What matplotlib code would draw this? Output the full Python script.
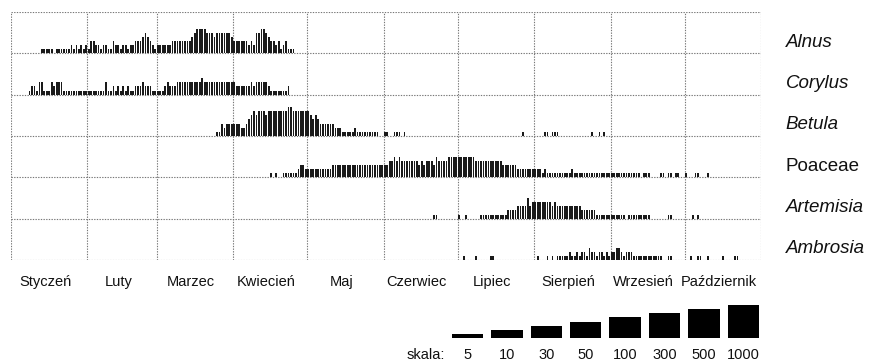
import numpy as np
import matplotlib
matplotlib.use("Agg")
import matplotlib.pyplot as plt
from matplotlib.transforms import blended_transform_factory

plt.rcParams['font.family'] = ['Liberation Sans', 'DejaVu Sans']

# Miesiące sezonu pylenia (styczeń - październik)
month_names = ["Styczeń", "Luty", "Marzec", "Kwiecień", "Maj", "Czerwiec",
               "Lipiec", "Sierpień", "Wrzesień", "Październik"]
month_days = [31, 28, 31, 30, 31, 30, 31, 31, 30, 31]

taxa = ["Alnus", "Corylus", "Betula", "Poaceae", "Artemisia", "Ambrosia"]
taxa_italic = [True, True, True, False, True, True]

# Klasy stężenia dzień po dniu: (dzień roku od 0, ciąg klas 0-8)
alnus = [
    (12, "11111"),
    (18, "111111" "2121212" "1332212211" "3221221223" "33454321"
         "222222" "3333333" "34" "56666" "5554" "555555" "4"
         "3333332325566543323123111"),
]
corylus = [
    (7, "122133111323331" "1111111111111111"
        "311212121211222322211111232223" "333333333" "4"
        "33333333333" "33" "222222" "3" "2" "33333" "2" "1111111" "2"),
]
betula = [
    (83, "1132333333223" "45656665" "66666666" "77" "6666666" "54543"
         "33333" "222" "11111" "2" "111111111"),
    (151, "11"), (155, "111"), (159, "1"), (207, "1"), (216, "11"),
    (219, "111"), (235, "1"), (238, "1"), (240, "1"),
]
poaceae = [
    (105, "101"),
    (110, "111111" "23322" "222222222" "33333333333333333333333" "44545"
          "4444444" "3434443" "54444" "55555555555" "44444444444" "333333"
          "2222222222" "12" "1111111111" "2" "111111111111111111111111111"),
    (256, "111"), (263, "11"), (266, "11"), (269, "11"), (273, "1"),
    (277, "11"), (282, "1"),
]
artemisia = [
    (171, "11"), (181, "1"), (184, "1"),
    (190, "11111111111" "2222" "3333" "5" "3" "44444444" "3" "4"
          "3333333333" "222222" "111111111111"),
    (250, "111111111"), (266, "11"), (276, "101"),
]
ambrosia = [
    (183, "1"), (188, "1"), (194, "11"), (213, "1"), (217, "101"),
    (221, "11111" "2112122132" "2122121223" "32122211" "1111111111"),
    (266, "11"), (275, "1"), (278, "11"), (282, "1"), (288, "1"), (293, "11"),
]
series = [alnus, corylus, betula, poaceae, artemisia, ambrosia]

# Skala klas stężenia
scale_classes = [1, 2, 3, 4, 5, 6, 7, 8]
scale_labels = ["5", "10", "30", "50", "100", "300", "500", "1000"]


def unpack(runs):
    days, levels = [], []
    for start, codes in runs:
        for k, c in enumerate(codes):
            if c != "0":
                days.append(start + k)
                levels.append(int(c))
    return np.array(days), np.array(levels)


W, H = 872, 364
fig = plt.figure(figsize=(W / 100, H / 100), dpi=100)
ax = fig.add_axes([11 / W, 1 - 260 / H, 750 / W, 248 / H])

edges = np.concatenate([[0], np.cumsum(month_days)])
mids = (edges[:-1] + edges[1:]) / 2
row_h = 10
n = len(series)

grid_kw = dict(color="#777777", linestyle=(0, (1.2, 1.2)), linewidth=0.8, zorder=1)
for x in edges:
    ax.axvline(x, **grid_kw)
for r in range(n + 1):
    ax.axhline(r * row_h, **grid_kw)

lab_tr = blended_transform_factory(ax.transAxes, ax.transData)
for i, runs in enumerate(series):
    base = (n - 1 - i) * row_h
    d, lv = unpack(runs)
    ax.bar(d + 0.5, lv, width=0.7, bottom=base, color="#1a1a1a",
           linewidth=0, zorder=3)
    ax.text(1.033, base + 1.6, taxa[i], transform=lab_tr, fontsize=13.5,
            style="italic" if taxa_italic[i] else "normal",
            ha="left", va="baseline", color="#111111", clip_on=False)

ax.set_xlim(0, edges[-1])
ax.set_ylim(0, n * row_h)
for s in ax.spines.values():
    s.set_visible(False)
ax.set_yticks([])
ax.set_xticks(mids - 1.5)
ax.set_xticklabels(month_names, fontsize=10.5, color="#111111")
ax.tick_params(axis="x", length=0, pad=11)

# Legenda skali
lax = fig.add_axes([447.8 / W, 26 / H, 315.2 / W, 33 / H])
lax.bar(np.arange(len(scale_classes)), scale_classes, width=0.8, color="black",
        linewidth=0)
lax.set_xlim(-0.5, len(scale_classes) - 0.5)
lax.set_ylim(0, 8)
lax.set_xticks(np.arange(len(scale_classes)))
lax.set_xticklabels(scale_labels, fontsize=10.5, color="#111111")
lax.tick_params(axis="x", length=0, pad=7)
lax.set_yticks([])
lax.patch.set_visible(False)
for s in lax.spines.values():
    s.set_visible(False)
lax.annotate("skala:", xy=(-0.5, 0), xycoords=("data", "axes fraction"),
             xytext=(-2, -7), textcoords="offset points", ha="right", va="top",
             fontsize=10.5, color="#111111")

fig.savefig("out.png", dpi=100)
